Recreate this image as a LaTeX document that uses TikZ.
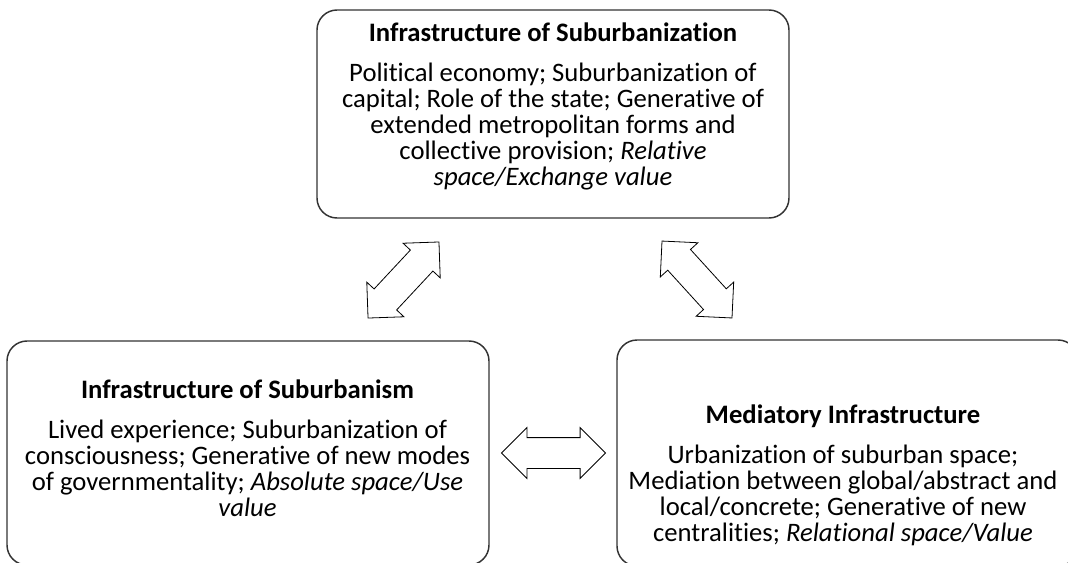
\documentclass[tikz,border=0pt]{standalone}
\usepackage{fontspec}
\setmainfont{Carlito}[Ligatures={TeX,NoCommon}]
\usetikzlibrary{shapes.arrows}

\begin{document}
\begin{tikzpicture}[x=0.75pt, y=-0.75pt,
    kasten/.style={draw=black!80, line width=1.1pt, rounded corners=15pt, inner sep=0pt},
    kastentext/.style={align=center, inner sep=0pt, font=\fontsize{20}{19.5}\selectfont},
    doppelpfeil/.style={draw=black, line width=0.6pt, double arrow, double arrow head extend=7.5pt,
        minimum height=78pt, inner xsep=0pt, inner ysep=11.25pt}]
    \clip (0,0) rectangle (1068,562);

    % Kaesten.
    \node[kasten, minimum width=354pt, minimum height=156pt] (oben) at (553,114) {};
    \node[kasten, minimum width=361.5pt, minimum height=168pt] (links) at (248,453) {};
    \node[kasten, minimum width=345.75pt, minimum height=169.5pt] (rechts) at (847.5,453) {};

    % Beschriftung.
    \node[kastentext] (obenText) at (553,106.5) {\textbf{Infrastructure of Suburbanization}\\[10.5pt]
        Political economy; Suburbanization of\\capital; Role of the state; Generative of\\
        extended metropolitan forms and\\collective provision; \textit{Relative}\\
        \textit{space/Exchange value}};
    \node[kastentext] (linksText) at (247.5,448.5) {\textbf{Infrastructure of Suburbanism}\\[10.5pt]
        Lived experience; Suburbanization of\\consciousness; Generative of new modes\\
        of governmentality; \textit{Absolute space/Use}\\\textit{value}};
    \node[kastentext] (rechtsText) at (843,475) {\textbf{Mediatory Infrastructure}\\[10.5pt]
        Urbanization of suburban space;\\Mediation between global/abstract and\\
        local/concrete; Generative of new\\centralities; \textit{Relational space/Value}};

    % Pfeile.
    \node[doppelpfeil, rotate=47] (pfeilLinks) at (403.5,280) {};
    \node[doppelpfeil, rotate=-47.7] (pfeilRechts) at (697,279.5) {};
    \node[doppelpfeil] (pfeilMitte) at (553.5,453) {};
\end{tikzpicture}
\end{document}
